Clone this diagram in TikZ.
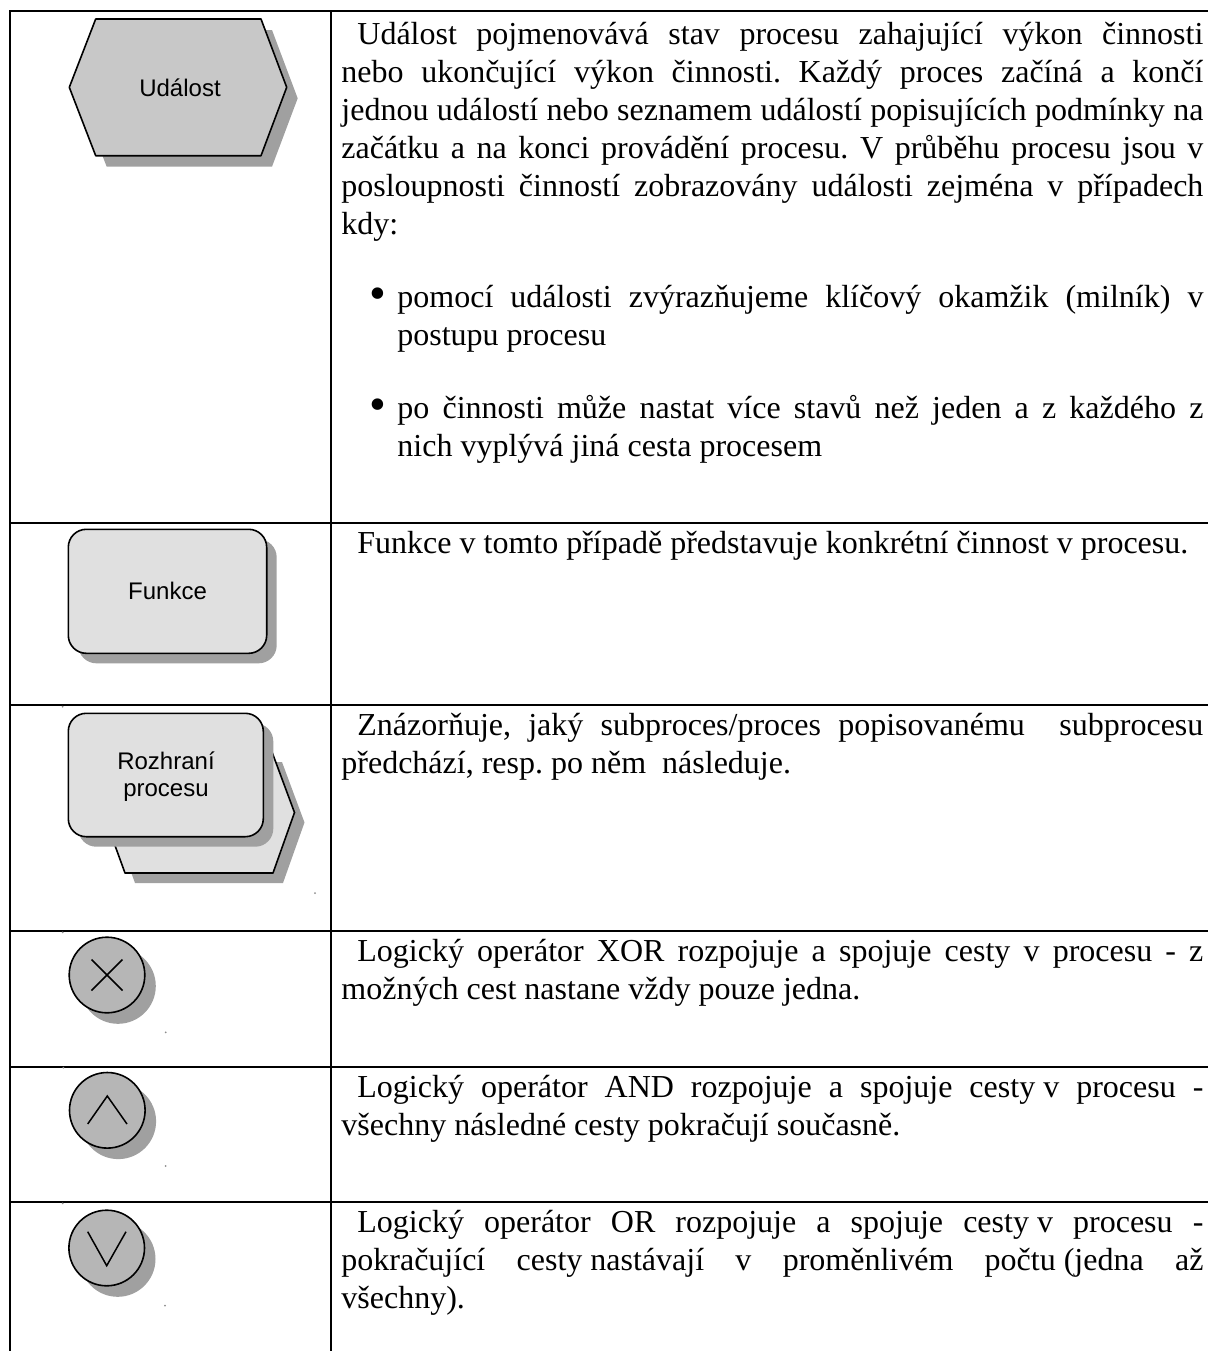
\documentclass[tikz,border=0pt]{standalone}
\usepackage{fontspec}
\setmainfont{Liberation Serif}
\newfontfamily\labelsans{Liberation Sans}
\frenchspacing
\newcommand\txtfont{\fontsize{16pt}{19pt}\selectfont}
\newcommand\lblfont{\labelsans\fontsize{12pt}{13.5pt}\selectfont}
\newcommand\bulfont{\fontsize{24pt}{24pt}\selectfont}
% justified lines of the description column
\newcommand\fullline[1]{\makebox[431pt][s]{#1}}
\newcommand\firstline[1]{\makebox[423pt][s]{#1}}
\newcommand\itemline[1]{\makebox[403pt][s]{#1}}
\newcommand\tightsp{\hspace{0.25em}}

\definecolor{shadowgray}{HTML}{A0A0A0}
\definecolor{eventgray}{HTML}{C8C8C8}
\definecolor{funcgray}{HTML}{E0E0E0}
\definecolor{opgray}{HTML}{B6B6B6}

\begin{document}
\begin{tikzpicture}[x=0.5pt,y=-0.5pt,
  rule/.style={line width=1pt},
  outl/.style={draw=black, line width=0.8pt, line join=round},
  shadowfill/.style={fill=shadowgray},
  txt/.style={anchor=base west, inner sep=0pt, font=\txtfont},
  bul/.style={anchor=center, inner sep=0pt, font=\bulfont},
  lbl/.style={inner sep=0pt, align=center, font=\lblfont},
  opmark/.style={line width=0.75pt},
  speck/.style={fill=black!45}]

\useasboundingbox (0,0) rectangle (1208,1351);

% ---- table grid ----
\draw[rule] (9,11) -- (1208,11);
\draw[rule] (10,11) -- (10,1351);
\draw[rule] (331,11) -- (331,1351);
\foreach \ry in {523,705,931,1067,1202}
  \draw[rule] (10,\ry) -- (1208,\ry);

% ---- event (hexagon) ----
\fill[shadowfill,shift={(11,11)}] (95.7,19) -- (261,19) -- (286.7,87.3) -- (261,155.7) -- (95.7,155.7) -- (69.3,87.3) -- cycle;
\filldraw[outl,fill=eventgray] (95.7,19) -- (261,19) -- (286.7,87.3) -- (261,155.7) -- (95.7,155.7) -- (69.3,87.3) -- cycle;
\node[lbl] (evlabel) at (180,88) {Událost};

% ---- function (rounded box) ----
\fill[shadowfill,rounded corners=9pt] (78.3,539.3) rectangle (276.7,663.3);
\filldraw[outl,fill=funcgray,rounded corners=9pt] (68.3,529.3) rectangle (266.7,653.3);
\node[lbl] (fnlabel) at (167.5,591.3) {Funkce};

% ---- process interface (box over hexagon) ----
\fill[shadowfill,shift={(10,10)}] (125,752) -- (272,752) -- (294.5,812.5) -- (273,873) -- (125,873) -- (103,812.5) -- cycle;
\filldraw[outl,fill=funcgray] (125,752) -- (272,752) -- (294.5,812.5) -- (273,873) -- (125,873) -- (103,812.5) -- cycle;
\fill[shadowfill,rounded corners=9pt] (78.3,723.3) rectangle (273.3,846.7);
\filldraw[outl,fill=funcgray,rounded corners=9pt] (68.3,713.3) rectangle (263.3,836.7);
\node[lbl] (iflabel) at (166,776.5) {Rozhraní\\procesu};

% ---- logical operators ----
\fill[shadowfill] (118,986) circle (18.9pt);
\filldraw[outl,fill=opgray] (107,975) circle (18.9pt);
\draw[opmark] (91.5,959.5) -- (122.5,990.5) (91.5,990.5) -- (122.5,959.5);
\coordinate (xorc) at (107,975);

\fill[shadowfill] (118.3,1121.3) circle (18.9pt);
\filldraw[outl,fill=opgray] (107.3,1110.3) circle (18.9pt);
\draw[opmark] (87.7,1124) -- (107.3,1096) -- (127,1124);
\coordinate (andc) at (107.3,1110.3);

\fill[shadowfill] (117.7,1259) circle (18.9pt);
\filldraw[outl,fill=opgray] (106.7,1248) circle (18.9pt);
\draw[opmark] (87.7,1231.7) -- (106.7,1265.7) -- (126,1231.7);
\coordinate (orc) at (106.7,1248);

% stray specks in the left column
\foreach \sx/\sy in {62.7/706.7,315/893,62.7/932.3,165.7/1032.3,63.3/1067.7,165.7/1166,62.7/1203.3,165/1305.7}
  \fill[speck] (\sx,\sy) circle (0.5pt);

% ---- descriptions ----
\node[txt] (ev1) at (357,44) {\firstline{Událost pojmenovává stav procesu zahajující výkon činnosti}};
\node[txt] (ev2) at (341,82) {\fullline{nebo ukončující výkon činnosti. Každý proces začíná a končí}};
\node[txt] (ev3) at (341,120) {\fullline{jednou událostí nebo seznamem událostí popisujících podmínky na}};
\node[txt] (ev4) at (341,158) {\fullline{začátku a na konci provádění procesu. V průběhu procesu jsou v}};
\node[txt] (ev5) at (341,196) {\fullline{posloupnosti činností zobrazovány události zejména v případech}};
\node[txt] (ev6) at (341,234) {kdy:};
\node[bul] (bul1) at (378,299) {•};
\node[txt] (ev7) at (397,307) {\itemline{pomocí události zvýrazňujeme klíčový okamžik (milník) v}};
\node[txt] (ev8) at (397,345) {postupu procesu};
\node[bul] (bul2) at (378,410) {•};
\node[txt] (ev9) at (397,418) {\itemline{po činnosti může nastat více stavů než jeden a z každého z}};
\node[txt] (ev10) at (397,456) {nich vyplývá jiná cesta procesem};

\node[txt] (fn1) at (357,553) {Funkce v tomto případě představuje konkrétní činnost v procesu.};

\node[txt] (if1) at (357,735) {\firstline{Znázorňuje, jaký subproces/proces popisovanému\ \ subprocesu}};
\node[txt] (if2) at (341,773) {předchází, resp. po něm\ \ následuje.};

\node[txt] (xor1) at (357,961) {\firstline{Logický operátor XOR rozpojuje a spojuje cesty v procesu - z}};
\node[txt] (xor2) at (341,999) {možných cest nastane vždy pouze jedna.};

\node[txt] (and1) at (357,1097) {\firstline{Logický operátor AND rozpojuje a spojuje cesty\tightsp v procesu -}};
\node[txt] (and2) at (341,1135) {všechny následné cesty pokračují současně.};

\node[txt] (or1) at (357,1232) {\firstline{Logický operátor OR rozpojuje a spojuje cesty\tightsp v procesu -}};
\node[txt] (or2) at (341,1270) {\fullline{pokračující cesty\tightsp nastávají v proměnlivém počtu\tightsp (jedna až}};
\node[txt] (or3) at (341,1308) {všechny).};
\end{tikzpicture}
\end{document}
